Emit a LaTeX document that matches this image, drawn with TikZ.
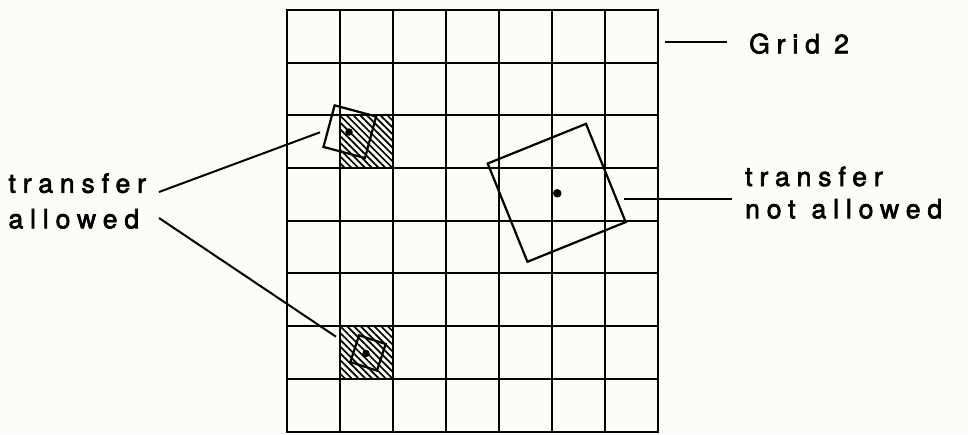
\documentclass[tikz,border=0pt]{standalone}
\usepackage{fontspec}
\setmainfont{TeX Gyre Heros}
\newfontfamily\lblfont[LetterSpace=26, FakeBold=2.5]{TeX Gyre Heros}
\usetikzlibrary{patterns.meta}
\definecolor{paper}{RGB}{253,253,248}

\begin{document}
\begin{tikzpicture}[x=1pt, y=-1pt,
  gridline/.style={line width=2pt, line cap=rect},
  leader/.style={line width=2pt},
  hatchcell/.style={minimum width=53pt, minimum height=53pt, inner sep=0pt,
    pattern={Lines[angle=-45, distance=4.8pt, line width=1.7pt]}},
  tilebox/.style={draw, line width=2.2pt, minimum size=#1, inner sep=0pt},
  centre/.style={circle, fill, inner sep=0pt, minimum size=7.5pt},
  lbl/.style={font=\lblfont\fontsize{26.5}{30}\selectfont, inner sep=0pt, anchor=base west}]

  % Background sets the margins
  \fill[paper] (0,0) rectangle (968,434);

  % Hatched cells
  \node[hatchcell] (cellA) at (366.5,141.5) {};
  \node[hatchcell] (cellB) at (366.5,352.5) {};

  % Grid lines
  \foreach \x in {287,340,393,446,499,552,605,658}
    \draw[gridline] (\x,10) -- (\x,432);
  \foreach \y in {10,63,115,168,221,273,326,379,432}
    \draw[gridline] (287,\y) -- (658,\y);

  % Tiles and their centres
  \node[tilebox=43pt, rotate=-15] (tileA) at (349.8,131.7) {};
  \node[centre] (dotA) at (349,132) {};
  \node[tilebox=28pt, rotate=-18] (tileB) at (368,353) {};
  \node[centre] (dotB) at (366,353.5) {};
  \node[tilebox=106pt, rotate=22] (tileC) at (556.7,192.8) {};
  \node[centre, minimum size=8.5pt] (dotC) at (557.3,193.3) {};

  % Labels
  \node[lbl] (transA) at (8.3,192.7) {transfer};
  \node[lbl] (allowA) at (8.3,228.3) {allowed};
  \node[lbl] (transN) at (745,186) {transfer};
  \node[lbl] (allowN) at (745,218.3) {not\hskip 16pt allowed};
  \node[lbl] (gridlbl) at (749,53.3) {Grid 2};

  % Leader ends
  \coordinate (endA1) at (159,192);
  \coordinate (endA2) at (320,132.3);
  \coordinate (endB1) at (159,218);
  \coordinate (endB2) at (336,336.7);
  \coordinate (endN1) at (732,199);
  \coordinate (endN2) at (624,199);
  \coordinate (endG1) at (727,42);
  \coordinate (endG2) at (665,42);

  % Draw leaders
  \draw[leader] (endA1) -- (endA2);
  \draw[leader] (endB1) -- (endB2);
  \draw[leader] (endN1) -- (endN2);
  \draw[leader] (endG1) -- (endG2);

\end{tikzpicture}
\end{document}
